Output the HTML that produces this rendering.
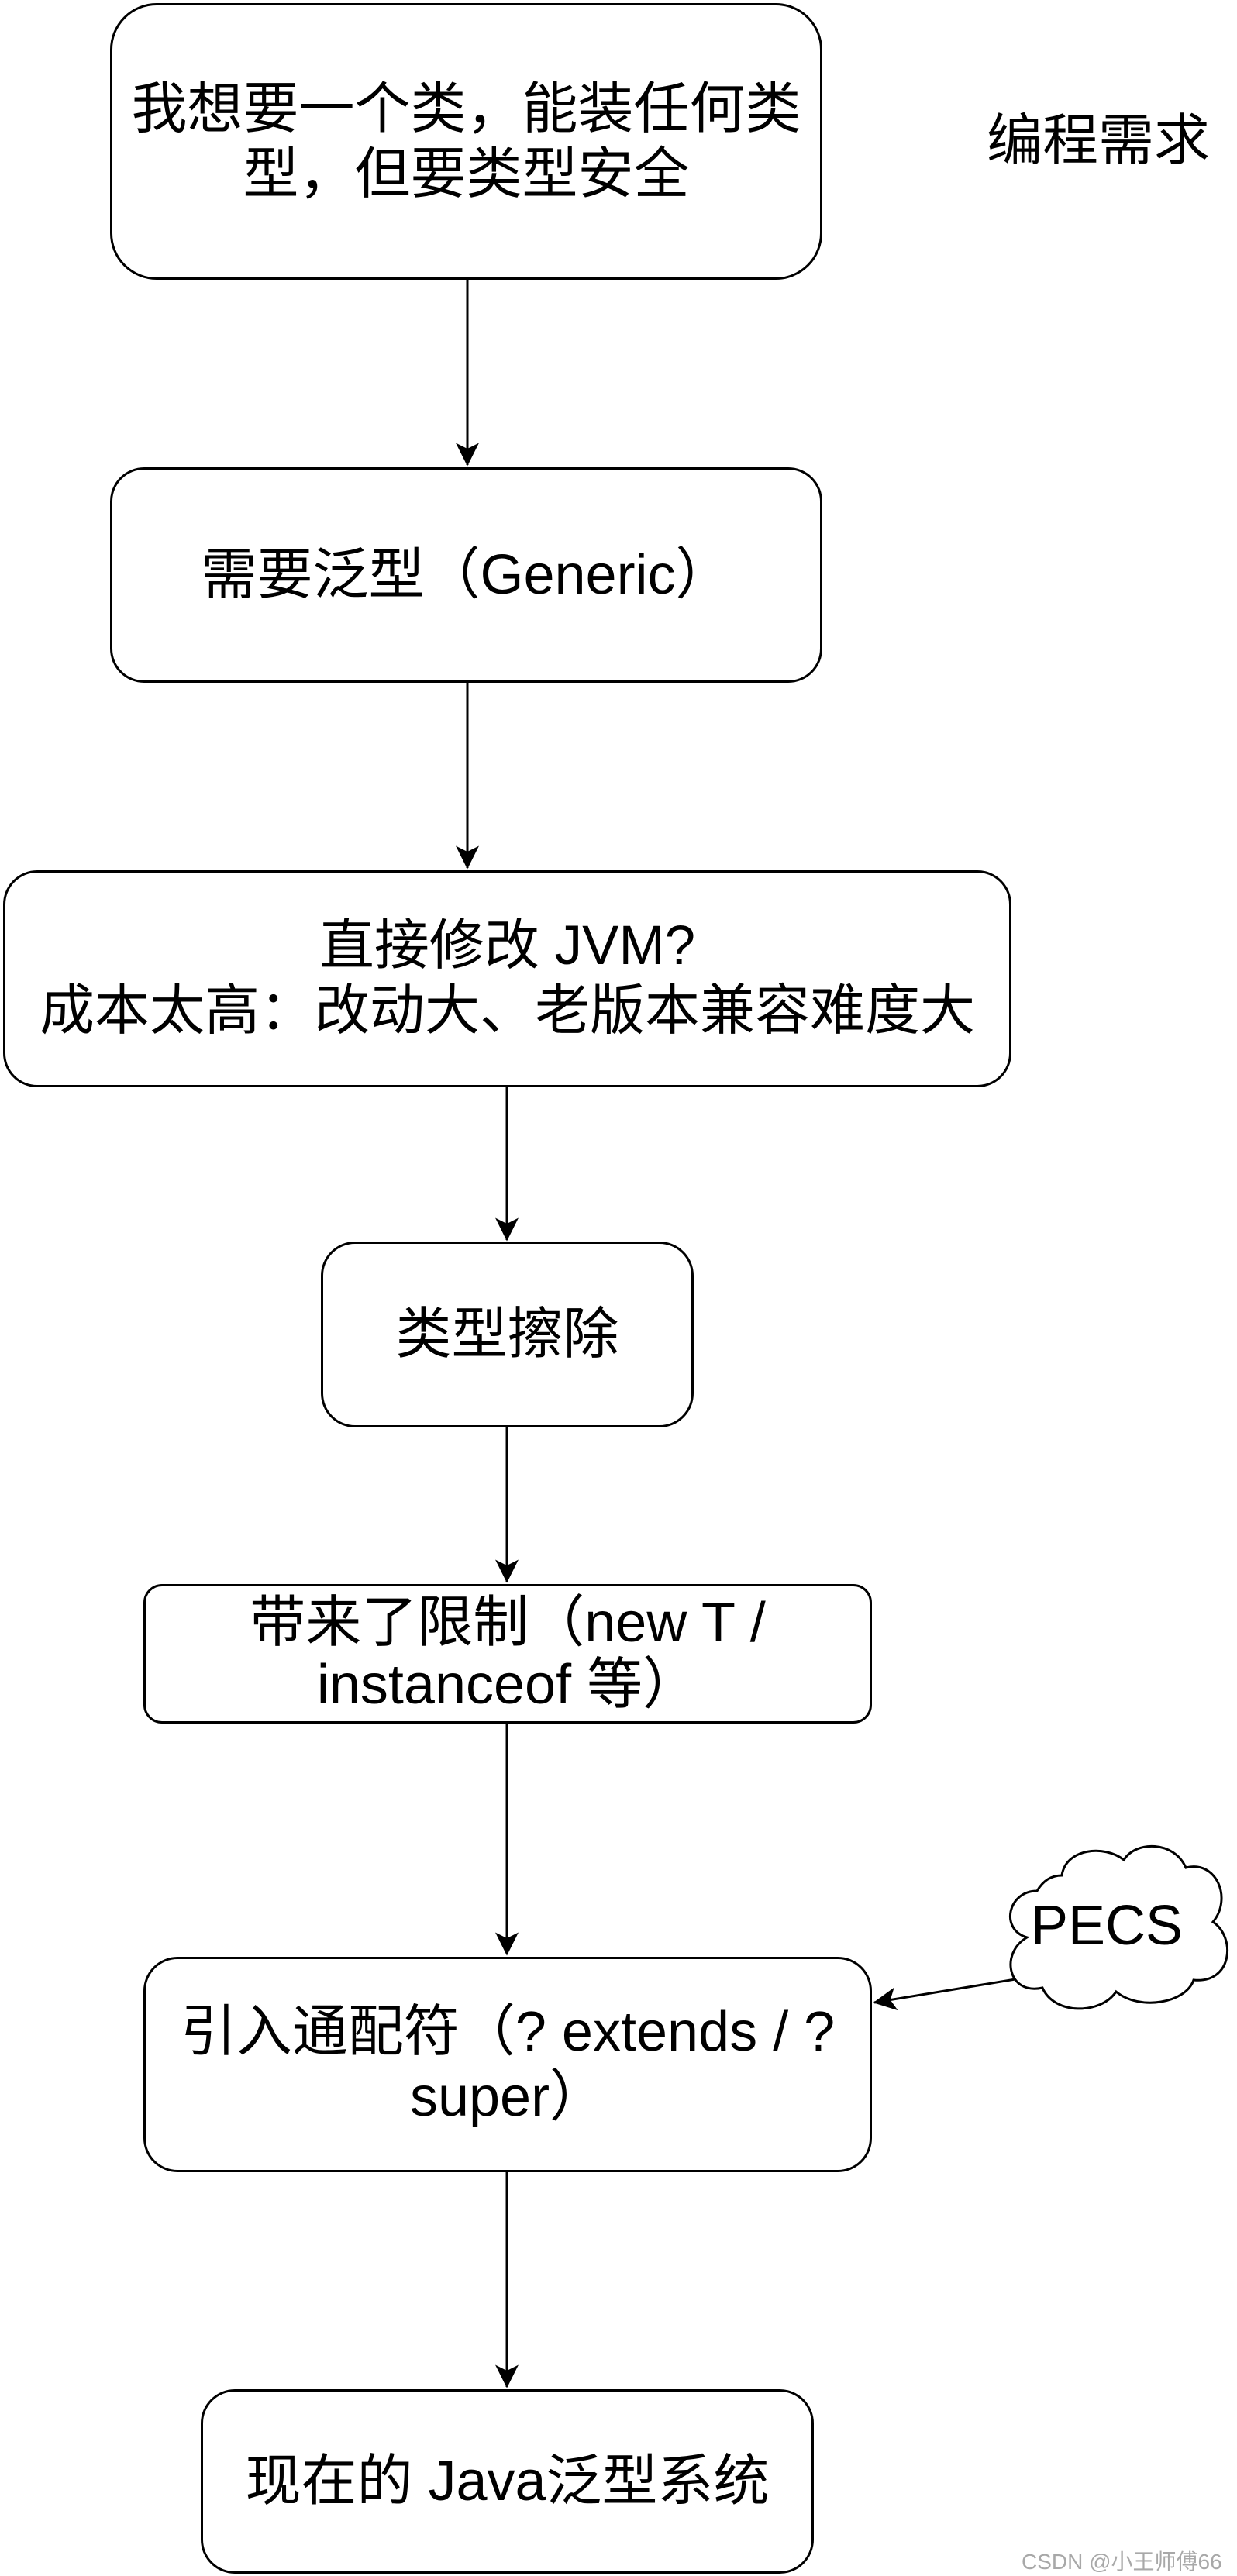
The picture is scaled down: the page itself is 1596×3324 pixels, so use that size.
<!DOCTYPE html>
<html><head><meta charset="utf-8"><style>
html,body{margin:0;padding:0;background:#fff;}
body{width:1596px;height:3324px;position:relative;overflow:hidden;font-family:"Liberation Sans","Noto Sans CJK SC",sans-serif;color:#000;}
.b{position:absolute;box-sizing:border-box;border:3px solid #000;border-radius:44px;display:flex;align-items:center;justify-content:center;text-align:center;font-size:72px;line-height:84px;white-space:nowrap;background:#fff;}
.t{position:absolute;white-space:nowrap;}
svg{position:absolute;left:0;top:0;}
</style></head><body>
<svg width="1596" height="3324" viewBox="0 0 1596 3324">
<defs>
<marker id="m" viewBox="0 0 20 20" refX="19" refY="10" markerWidth="30" markerHeight="30" orient="auto" markerUnits="userSpaceOnUse"><path d="M0,0 L20,10 L0,20 L5,10 Z" fill="#000"/></marker></defs>
<g stroke="#000" stroke-width="3" fill="none">
<line x1="603" y1="361" x2="603" y2="600" marker-end="url(#m)"/>
<line x1="603" y1="881" x2="603" y2="1120" marker-end="url(#m)"/>
<line x1="654" y1="1403" x2="654" y2="1600" marker-end="url(#m)"/>
<line x1="654" y1="1842" x2="654" y2="2041" marker-end="url(#m)"/>
<line x1="654" y1="2224" x2="654" y2="2522" marker-end="url(#m)"/>
<line x1="654" y1="2803" x2="654" y2="3080" marker-end="url(#m)"/>
<line x1="1316" y1="2553" x2="1128" y2="2584" marker-end="url(#m)"/>
<path d="M1338,2440 C1300,2440 1290,2490 1325,2500 C1290,2520 1300,2575 1345,2565 C1360,2600 1420,2600 1440,2570 C1470,2595 1530,2585 1540,2555 C1590,2560 1595,2500 1565,2480 C1590,2450 1570,2400 1530,2410 C1515,2375 1465,2375 1450,2400 C1425,2380 1375,2385 1370,2420 C1355,2420 1345,2428 1338,2440 Z" fill="#fff"/>
</g>
</svg>
<div class="b" style="left:142px;top:4px;width:919px;height:357px;border-radius:60px;">我想要一个类，能装任何类<br>型，但要类型安全</div>
<div class="t" style="left:1273px;top:140px;font-size:72px;line-height:84px;">编程需求</div>
<div class="b" style="left:142px;top:603px;width:919px;height:278px;">需要泛型（Generic）</div>
<div class="b" style="left:4px;top:1123px;width:1301px;height:280px;font-size:71px;">直接修改 JVM?<br>成本太高：改动大、老版本兼容难度大</div>
<div class="b" style="left:414px;top:1602px;width:481px;height:240px;">类型擦除</div>
<div class="b" style="left:185px;top:2044px;width:940px;height:180px;border-radius:24px;line-height:80px;">带来了限制（new T /<br>instanceof 等）</div>
<div class="b" style="left:185px;top:2525px;width:940px;height:278px;">引入通配符（? extends / ?<br>super）</div>
<div class="b" style="left:259px;top:3083px;width:791px;height:238px;">现在的 Java泛型系统</div>
<div class="t" style="left:1330px;top:2443px;font-size:72px;line-height:84px;">PECS</div>
<div class="t" style="left:1318px;top:3284px;font-size:28px;color:#a8a8a8;">CSDN @小王师傅66</div>
</body></html>
